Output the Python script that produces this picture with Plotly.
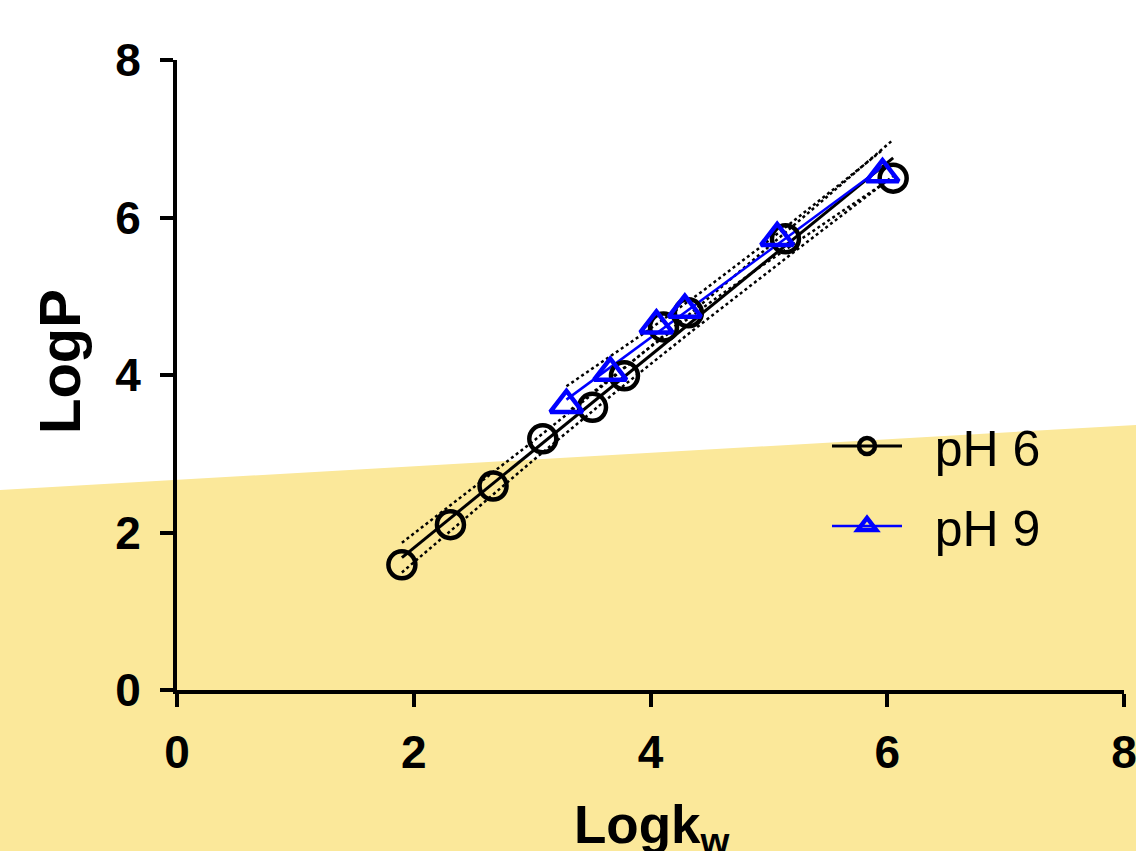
import numpy as np
import plotly.graph_objects as go

# ---- data ----
ph6_logkw = [1.90, 2.31, 2.67, 3.09, 3.51, 3.78, 4.11, 4.32, 5.14, 6.05]
ph6_logp = [1.59, 2.10, 2.59, 3.19, 3.59, 3.99, 4.61, 4.79, 5.73, 6.50]
ph9_logkw = [3.29, 3.66, 4.05, 4.29, 5.07, 5.96]
ph9_logp = [3.62, 4.03, 4.63, 4.83, 5.74, 6.55]

series_names = ["pH 6", "pH 9"]
x_ticks = [0, 2, 4, 6, 8]
y_ticks = [0, 2, 4, 6, 8]
t_crit = {8: 2.306, 4: 2.776}  # 95% two-sided Student t

YELLOW = "#FBE89A"
BLUE = "#0000FF"
FONT = "Liberation Sans, Arial"


def fit_with_band(x, y, n_pts=60):
    x = np.asarray(x, float)
    y = np.asarray(y, float)
    n = len(x)
    b, a = np.polyfit(x, y, 1)
    resid = y - (a + b * x)
    s = np.sqrt(np.sum(resid ** 2) / (n - 2))
    xs = np.linspace(x.min(), x.max(), n_pts)
    ys = a + b * xs
    sxx = np.sum((x - x.mean()) ** 2)
    se = s * np.sqrt(1.0 / n + (xs - x.mean()) ** 2 / sxx)
    t = t_crit[n - 2]
    return xs, ys, ys - t * se, ys + t * se


fig = go.Figure()

series = [
    (series_names[0], ph6_logkw, ph6_logp, "black", "circle-open", 27, 3),
    (series_names[1], ph9_logkw, ph9_logp, BLUE, "triangle-up-open", 28, 2.5),
]

for name, xv, yv, col, sym, msize, lw in series:
    xs, ys, lo, hi = fit_with_band(xv, yv)
    for band in (lo, hi):
        fig.add_trace(go.Scatter(x=xs, y=band, mode="lines", showlegend=False,
                                 line=dict(color="black", width=2.5, dash="dot"),
                                 hoverinfo="skip"))
    fig.add_trace(go.Scatter(x=xs, y=ys, mode="lines", showlegend=False,
                             line=dict(color=col, width=lw), hoverinfo="skip"))

for name, xv, yv, col, sym, msize, lw in series:
    fig.add_trace(go.Scatter(x=xv, y=yv, mode="markers", name=name, showlegend=False,
                             marker=dict(symbol=sym, size=msize, color=col,
                                         line=dict(color=col, width=4.5))))
    # legend-only entry with line + marker (no visible data)
    fig.add_trace(go.Scatter(x=[None], y=[None], mode="lines+markers",
                             name="&nbsp;&nbsp;" + name,
                             legendgroup=name,
                             line=dict(color=col, width=lw),
                             marker=dict(symbol=sym, size=msize, color=col,
                                         line=dict(color=col, width=4.5))))

L, R, T, B = 177, 12, 60, 161
W, H = 1136, 851
pw, ph = W - L - R, H - T - B


def px2paper(px, py):
    return (px - L) / pw, (H - B - py) / ph


x0, y0 = px2paper(0, 490)
x1, y1 = px2paper(W, 425)
_, yb = px2paper(0, H)
fig.add_shape(type="path", xref="paper", yref="paper", layer="below",
              path=f"M {x0} {y0} L {x1} {y1} L {x1} {yb} L {x0} {yb} Z",
              fillcolor=YELLOW, line=dict(width=0))

axis_common = dict(showgrid=False, zeroline=False, showline=True, linecolor="black",
                   linewidth=4, ticks="outside", ticklen=13, tickwidth=4,
                   tickcolor="black", ticklabeloverflow="allow", automargin=False,
                   tickfont=dict(family=FONT, size=46, color="black", weight="bold"))

fig.update_xaxes(range=[0, 8], tickvals=x_ticks, ticktext=[str(v) for v in x_ticks],
                 ticklabelstandoff=6, **axis_common)
fig.update_yaxes(range=[0, 8], tickvals=y_ticks, ticktext=[str(v) for v in y_ticks],
                 ticklabelstandoff=10, **axis_common)

tx, ty = px2paper(59, 362)
fig.add_annotation(text="<b>LogP</b>", xref="paper", yref="paper", x=tx, y=ty,
                   textangle=-90, showarrow=False, xanchor="center", yanchor="middle",
                   font=dict(family=FONT, size=58, color="black"))
bx, by = px2paper(652, 828)
fig.add_annotation(text="<b>Logk<sub>w</sub></b>", xref="paper", yref="paper", x=bx, y=by,
                   showarrow=False, xanchor="center", yanchor="middle",
                   font=dict(family=FONT, size=53, color="black"))

lx, ly = px2paper(827, 407)
fig.update_layout(
    width=W, height=H, autosize=False,
    margin=dict(l=L, r=R, t=T, b=B, pad=0, autoexpand=False),
    paper_bgcolor="white", plot_bgcolor="rgba(0,0,0,0)",
    showlegend=True,
    legend=dict(x=lx, y=ly, xanchor="left", yanchor="top", bgcolor="rgba(0,0,0,0)",
                font=dict(family=FONT, size=50, color="black"),
                itemwidth=70, tracegroupgap=12, traceorder="grouped"),
)

fig.write_html("out.html",
               config={"responsive": False, "displayModeBar": False},
               post_script="document.body.style.margin='0px';document.body.style.overflow='hidden';")
